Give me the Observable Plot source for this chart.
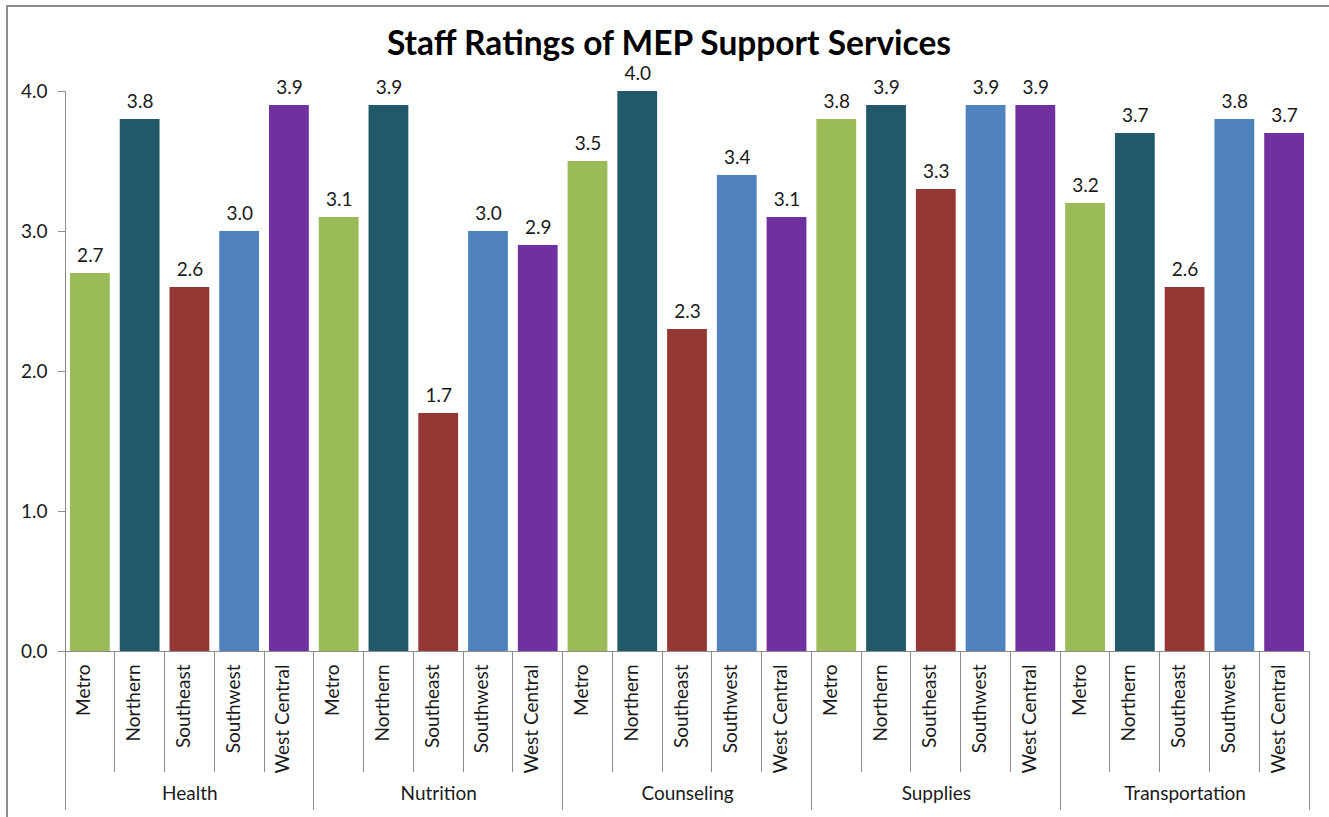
<!DOCTYPE html>
<html>
<head>
<meta charset="utf-8">
<script src="https://cdn.jsdelivr.net/npm/d3@7"></script>
<script src="https://cdn.jsdelivr.net/npm/@observablehq/plot@0.6"></script>
<style>
  body { margin: 0; background: #fff; }
  #wrap { position: relative; width: 1329px; height: 817px; overflow: hidden; }
  #frame { position: absolute; left: 6px; top: 5px; right: -10px; bottom: -10px;
           border-left: 2px solid #8c8c8c; border-top: 2px solid #8c8c8c; }
  #chart { position: absolute; left: 0; top: 0; }
  #title { position: absolute; left: 0; width: 1338px; top: 26px; text-align: center;
           font: bold 33.5px Lato, sans-serif; line-height: 1; color: #000; white-space: nowrap; }
</style>
</head>
<body>
<div id="wrap">
  <div id="frame"></div>
  <div id="chart"></div>
  <div id="title">Staff Ratings of MEP Support Services</div>
</div>
<script>
// ---- data ----
const services = ["Health", "Nutrition", "Counseling", "Supplies", "Transportation"];
const regions = ["Metro", "Northern", "Southeast", "Southwest", "West Central"];
const regionColors = ["#9BBB59", "#215968", "#953735", "#4F81BD", "#7030A0"];
const health = [2.7, 3.8, 2.6, 3.0, 3.9];
const nutrition = [3.1, 3.9, 1.7, 3.0, 2.9];
const counseling = [3.5, 4.0, 2.3, 3.4, 3.1];
const supplies = [3.8, 3.9, 3.3, 3.9, 3.9];
const transportation = [3.2, 3.7, 2.6, 3.8, 3.7];
const yTicks = [0, 1, 2, 3, 4];

const seriesByService = [health, nutrition, counseling, supplies, transportation];
const data = [];
services.forEach((s, si) => regions.forEach((r, ri) => {
  data.push({service: s, region: r, key: s + "|" + r, value: seriesByService[si][ri]});
}));
const keys = data.map(d => d.key);

const W = 1329, H = 817;
const textColor = "#1a1a1a";
const lineColor = "#8c8c8c";

// category / group separators and the y axis line, drawn from the scales
function separators(index, scales, values, dims) {
  const fx = typeof scales.x === "function" ? scales.x : scales.x.apply;
  const fy = typeof scales.y === "function" ? scales.y : scales.y.apply;
  const step = fx(keys[1]) - fx(keys[0]);
  const y0 = fy(0), yTop = fy(4);
  const g = d3.create("svg:g").attr("stroke", lineColor).attr("stroke-width", 1)
    .attr("shape-rendering", "crispEdges");
  const bounds = keys.map(k => fx(k) - 0.1 * step);
  bounds.push(fx(keys[keys.length - 1]) + 0.9 * step);
  bounds.forEach((bx, i) => {
    const isGroup = i % regions.length === 0;
    g.append("line").attr("x1", bx).attr("x2", bx)
      .attr("y1", y0).attr("y2", y0 + (isGroup ? 159 : 121));
  });
  g.append("line").attr("x1", bounds[0]).attr("x2", bounds[0]).attr("y1", yTop).attr("y2", y0);
  return g.node();
}

const chart = Plot.plot({
  width: W,
  height: H,
  marginLeft: 65,
  marginRight: 20,
  marginTop: 91,
  marginBottom: 166,
  style: {fontFamily: "Lato, sans-serif", fontSize: "19px", color: textColor, background: "transparent"},
  x: {domain: keys, paddingInner: 0.2, paddingOuter: 0.1, round: false, axis: null},
  y: {domain: [0, 4], axis: null},
  color: {domain: regions, range: regionColors},
  marks: [
    Plot.barY(data, {x: "key", y: "value", fill: "region"}),
    Plot.ruleY([0], {stroke: lineColor}),
    separators,
    Plot.axisY(yTicks, {tickSize: 7, tickPadding: 11, tickFormat: d => d.toFixed(1), label: null,
      stroke: lineColor, fill: textColor, fontSize: 19}),
    Plot.text(data, {x: "key", y: "value", text: d => d.value.toFixed(1),
      dy: -18, fill: textColor, fontSize: 19}),
    Plot.text(data, {x: "key", frameAnchor: "bottom", text: "region", rotate: -90,
      textAnchor: "end", dy: 13, fill: textColor, fontSize: 19}),
    Plot.text(services, {x: d => d + "|" + regions[2], frameAnchor: "bottom", text: d => d,
      dy: 148, fill: textColor, fontSize: 19})
  ]
});
document.getElementById("chart").appendChild(chart);
</script>
</body>
</html>
